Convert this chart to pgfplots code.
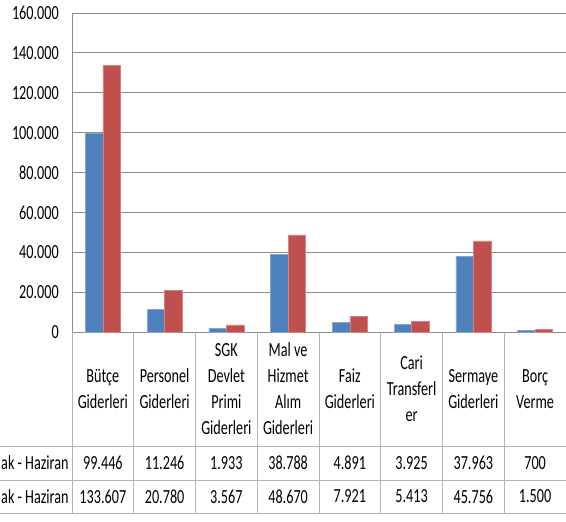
\documentclass[border=0pt]{standalone}
\usepackage{pgfplots}
\pgfplotsset{compat=1.18}
\usepackage{fontspec}
\setmainfont{Carlito}[FakeStretch=0.71]
\definecolor{xlblue}{HTML}{4F81BD}
\definecolor{xlred}{HTML}{C0504D}
\definecolor{gridgray}{HTML}{8C8C8C}
\definecolor{tabgray}{HTML}{B4B4B4}
\begin{document}
\begin{tikzpicture}[x=1pt,y=1pt]
\clip (0,0) rectangle (566,522);
\begin{axis}[
  at={(72pt,190pt)}, anchor=south west,
  scale only axis, width=494pt, height=319pt,
  xmin=-0.5, xmax=7.5, ymin=0, ymax=160000,
  ybar=0pt, bar width=17.5pt,
  axis x line*=bottom, axis y line*=left,
  axis line style={-, draw=gridgray, line width=0.8pt},
  xtick=\empty,
  ytick={0,20000,...,160000},
  scaled y ticks=false,
  /pgf/number format/fixed,
  /pgf/number format/1000 sep={.},
  /pgf/number format/assume math mode=true,
  yticklabel style={anchor=east, inner sep=0pt, xshift=-13pt, font=\fontsize{20}{22}\selectfont},
  ytick style={draw=none},
  ymajorgrids, grid style={draw=gridgray, line width=0.8pt},
  clip=false,
]
\addplot[fill=xlblue, draw=xlblue!70!white, line width=0.5pt] coordinates {(0,99446) (1,11246) (2,1933) (3,38788) (4,4891) (5,3925) (6,37963) (7,700)};
\addplot[fill=xlred, draw=xlred!70!white, line width=0.5pt] coordinates {(0,133607) (1,20780) (2,3567) (3,48670) (4,7921) (5,5413) (6,45756) (7,1500)};
\end{axis}
% data table
\foreach \k in {0,...,7} {
  \draw[tabgray, line width=0.8pt] ({72+61.75*\k},190) -- ({72+61.75*\k},9);
}
\foreach \yy in {76,42,9} {
  \draw[tabgray, line width=0.8pt] (0,\yy) -- (566,\yy);
}
\tikzset{hd/.style={align=center, font=\fontsize{20}{26}\selectfont, inner sep=0pt},
         vl/.style={font=\fontsize{20}{22}\selectfont, inner sep=0pt}}
\node[hd] at ({72+61.75*0.5},133) {Bütçe\\Giderleri};
\node[hd] at ({72+61.75*1.5},133) {Personel\\Giderleri};
\node[hd] at ({72+61.75*2.5},133) {SGK\\Devlet\\Primi\\Giderleri};
\node[hd] at ({72+61.75*3.5},133) {Mal ve\\Hizmet\\Alım\\Giderleri};
\node[hd] at ({72+61.75*4.5},133) {Faiz\\Giderleri};
\node[hd] at ({72+61.75*5.5},133) {Cari\\Transferl\\er};
\node[hd] at ({72+61.75*6.5},133) {Sermaye\\Giderleri};
\node[hd] at ({72+61.75*7.5},133) {Borç\\Verme};
\node[vl, anchor=west] at (1,59) {ak - Haziran};
\node[vl, anchor=west] at (1,25.5) {ak - Haziran};
\foreach \v [count=\i from 0] in {99.446,11.246,1.933,38.788,4.891,3.925,37.963,700} {
  \node[vl] at ({72+61.75*(\i+0.5)},59) {\v};
}
\foreach \v [count=\i from 0] in {133.607,20.780,3.567,48.670,7.921,5.413,45.756,1.500} {
  \node[vl] at ({72+61.75*(\i+0.5)},25.5) {\v};
}
\end{tikzpicture}
\end{document}
